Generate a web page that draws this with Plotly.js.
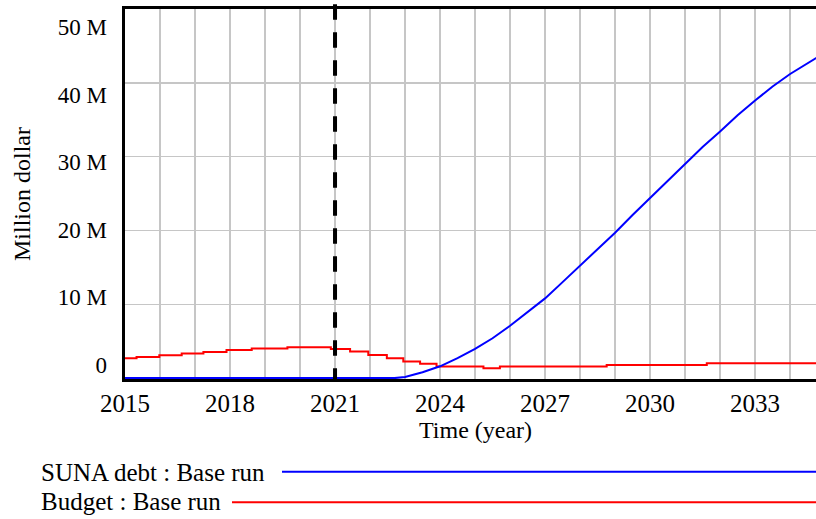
<!DOCTYPE html>
<html>
<head>
<meta charset="utf-8">
<script src="https://cdn.plot.ly/plotly-3.0.1.min.js"></script>
<style>html,body{margin:0;padding:0;background:#fff;overflow:hidden}#chart{width:816px;height:519px}</style>
</head>
<body>
<div id="chart"></div>
<script>
// ---- data (values in dollars) ----
const debtYears = [2015, 2022.7, 2023, 2023.5, 2024, 2024.5, 2025, 2025.5, 2026, 2026.5, 2027, 2027.5, 2028, 2028.5, 2029, 2029.5, 2030, 2030.5, 2031, 2031.5, 2032, 2032.5, 2033, 2033.5, 2034, 2034.5, 2035];
const debtMillions = [0, 0, 0.15, 0.8, 1.6, 2.7, 3.95, 5.4, 7.1, 8.9, 10.8, 13.0, 15.2, 17.4, 19.7, 22.1, 24.4, 26.8, 29.1, 31.3, 33.4, 35.6, 37.6, 39.5, 41.2, 42.7, 44.1];

const budgetYears = [2015, 2015.33, 2015.98, 2016.62, 2017.24, 2017.9, 2018.62, 2019.64, 2020.88, 2021.43, 2021.95, 2022.48, 2022.95, 2023.43, 2023.9, 2025.24, 2025.71, 2028.76, 2031.62, 2035];
const budgetMillions = [2.69, 2.87, 3.10, 3.32, 3.54, 3.81, 4.00, 4.17, 3.95, 3.59, 3.14, 2.69, 2.24, 1.93, 1.57, 1.35, 1.57, 1.79, 2.00, 2.00];

const xTickVals = [2015, 2018, 2021, 2024, 2027, 2030, 2033];
const xTickLabels = ["2015", "2018", "2021", "2024", "2027", "2030", "2033"];
const yTickVals = [0, 10e6, 20e6, 30e6, 40e6, 50e6];
const yTickLabels = ["0", "10 M", "20 M", "30 M", "40 M", "50 M"];
const markerYear = 2021;
const seriesNames = ["SUNA debt : Base run", "Budget : Base run"];

const debtValues = debtMillions.map(v => v * 1e6);
const budgetValues = budgetMillions.map(v => v * 1e6);

const FONT = "Liberation Serif, Times New Roman, serif";

const traces = [
  {x: budgetYears, y: budgetValues, type: "scatter", mode: "lines", line: {color: "#ff0000", width: 2, shape: "hv"}, name: seriesNames[1], hoverinfo: "x+y"},
  {x: debtYears, y: debtValues, type: "scatter", mode: "lines", line: {color: "#0000ff", width: 2}, name: seriesNames[0], hoverinfo: "x+y"},
  // carrier for the label axis (invisible)
  {x: debtYears, y: debtValues, type: "scatter", mode: "lines", yaxis: "y2", line: {color: "rgba(0,0,0,0)", width: 0}, hoverinfo: "skip", showlegend: false}
];

const layout = {
  width: 816, height: 519,
  margin: {l: 125, r: 0, t: 9, b: 140},
  paper_bgcolor: "#fff", plot_bgcolor: "#fff",
  showlegend: false,
  font: {family: FONT, color: "#000"},
  xaxis: {
    range: [2015, 2034.74],
    tickvals: xTickVals, ticktext: xTickLabels,
    ticks: "", tickfont: {family: FONT, size: 25, color: "#000"},
    showgrid: true, gridcolor: "#c6c6c6", gridwidth: 1.5,
    minor: {dtick: 1, tick0: 2015, showgrid: true, gridcolor: "#c6c6c6", gridwidth: 1.5, ticks: ""},
    showline: true, linecolor: "#000", linewidth: 3, mirror: true,
    zeroline: false, layer: "below traces",
    ticklabelstandoff: 0
  },
  yaxis: {
    range: [-0.12e6, 50e6],
    tickvals: yTickVals, showticklabels: false, ticks: "",
    showgrid: true, gridcolor: "#c6c6c6", gridwidth: 1.5,
    showline: true, linecolor: "#000", linewidth: 3,
    zeroline: false, layer: "below traces"
  },
  yaxis2: {
    overlaying: "y", side: "left",
    range: [-2.071e6, 52.663e6],
    tickvals: yTickVals, ticktext: yTickLabels,
    ticks: "", tickfont: {family: FONT, size: 23, color: "#000"},
    showgrid: false, showline: false, zeroline: false,
    ticklabelstandoff: 17
  },
  shapes: [
    {type: "line", xref: "x", yref: "paper", x0: markerYear, x1: markerYear, y0: 1.0127, y1: 0,
     line: {color: "#000", width: 4, dash: "15.5px,12.5px"}},
    {type: "line", xref: "paper", yref: "paper", x0: (282 - 125) / 691, x1: 1.01, y0: -0.2505, y1: -0.2505,
     line: {color: "#0000ff", width: 2}},
    {type: "line", xref: "paper", yref: "paper", x0: (232 - 125) / 691, x1: 1.01, y0: -0.333, y1: -0.333,
     line: {color: "#ff0000", width: 2}}
  ],
  annotations: [
    {text: "Time (year)", xref: "x", yref: "paper", x: 2025, y: -0.137, xanchor: "center", yanchor: "middle",
     showarrow: false, font: {family: FONT, size: 24, color: "#000"}},
    {text: "Million dollar", xref: "paper", yref: "paper", x: (22 - 125) / 691, y: 0.5, xanchor: "center", yanchor: "middle",
     textangle: -90, showarrow: false, font: {family: FONT, size: 24, color: "#000"}},
    {text: seriesNames[0], xref: "paper", yref: "paper", x: (39 - 125) / 691, y: -0.254, xanchor: "left", yanchor: "middle",
     showarrow: false, font: {family: FONT, size: 25, color: "#000"}},
    {text: seriesNames[1], xref: "paper", yref: "paper", x: (39 - 125) / 691, y: -0.332, xanchor: "left", yanchor: "middle",
     showarrow: false, font: {family: FONT, size: 25, color: "#000"}}
  ]
};

Plotly.newPlot("chart", traces, layout, {staticPlot: true, displayModeBar: false});
</script>
</body>
</html>
